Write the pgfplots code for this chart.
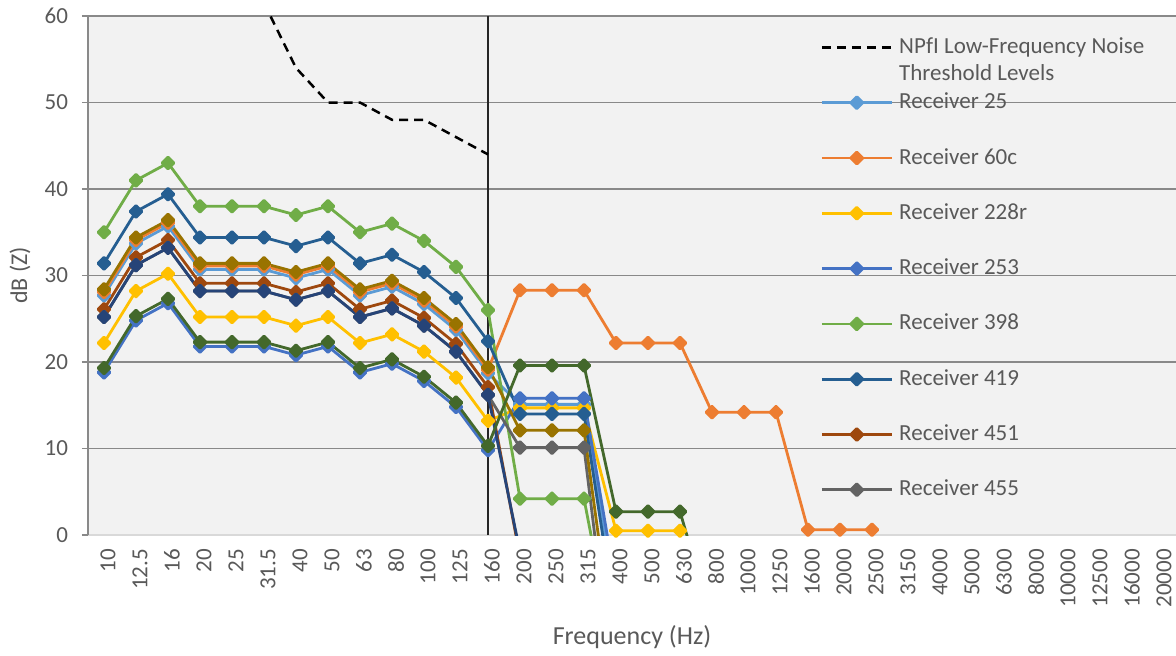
\documentclass[border=0pt]{standalone}
\usepackage{pgfplots}
\pgfplotsset{compat=1.18}
\usepackage{fontspec}
\setmainfont{Carlito}
\definecolor{txt}{HTML}{595959}
\definecolor{bg}{HTML}{F2F2F2}
\definecolor{gridc}{HTML}{898989}
\definecolor{botc}{HTML}{D9D9D9}
\definecolor{cA}{HTML}{5B9BD5}
\definecolor{cB}{HTML}{ED7D31}
\definecolor{cC}{HTML}{FFC000}
\definecolor{cD}{HTML}{4472C4}
\definecolor{cE}{HTML}{70AD47}
\definecolor{cF}{HTML}{255E91}
\definecolor{cG}{HTML}{9E480E}
\definecolor{cH}{HTML}{636363}
\definecolor{cI}{HTML}{997300}
\definecolor{cJ}{HTML}{264478}
\definecolor{cK}{HTML}{43682B}
\begin{document}
\fontsize{11.5pt}{13.5pt}\selectfont
\begin{tikzpicture}
\useasboundingbox (-44pt,-60pt) rectangle (544pt,267.5pt);
\begin{axis}[
  at={(0,0)}, anchor=south west,
  scale only axis, width=544pt, height=259.5pt,
  xmin=-0.5, xmax=33.5, ymin=0, ymax=60,
  axis background/.style={fill=bg},
  axis x line*=bottom, axis y line*=left,
  x axis line style={draw=botc, line width=0.75pt},
  y axis line style={draw=gridc, line width=0.75pt},
  xtick={0,...,33},
  xticklabels={10,12.5,16,20,25,31.5,40,50,63,80,100,125,160,200,250,315,400,500,630,800,1000,1250,1600,2000,2500,3150,4000,5000,6300,8000,10000,12500,16000,20000},
  x tick style={draw=none},
  xticklabel style={rotate=90, anchor=east, yshift=-2pt, text=txt, font=\fontsize{11.5pt}{13pt}\selectfont},
  ytick={0,10,...,60},
  y tick style={draw=gridc, line width=0.75pt},
  tick align=outside, major tick length=3pt,
  yticklabel style={text=txt, xshift=-3pt, font=\fontsize{11.5pt}{13pt}\selectfont},
  /pgf/number format/assume math mode=true,
  ymajorgrids, grid style={draw=gridc, line width=0.8pt},
  xlabel={Frequency (Hz)},
  xlabel style={at={(axis description cs:0.5,-0.1965)}, anchor=center, text=txt, font=\fontsize{13pt}{15pt}\selectfont},
  ylabel={dB (Z)},
  ylabel style={at={(axis description cs:-0.0625,0.5)}, anchor=center, text=txt, font=\fontsize{12pt}{14pt}\selectfont},
  every axis plot/.append style={line width=1.4pt, line join=round},
  rec/.style={color=#1, mark=square*, mark size=2.1pt, mark options={rotate=45, solid}},
  legend image code/.code={\draw[mark repeat=2,mark phase=2,#1] plot coordinates {(0pt,0pt)(17.5pt,0pt)(35pt,0pt)};},
  legend cell align=left,
  legend style={at={(rel axis cs:0.6728,0.9634)}, anchor=north west, draw=none, fill=none, inner sep=0pt,
    row sep=15.65pt, column sep=3pt,
    nodes={inner sep=0pt, text height=9pt, text depth=3pt, text=txt, font=\fontsize{11.5pt}{13.5pt}\selectfont}},
]
\addplot[black!85, line width=0.75pt, forget plot] coordinates {(12,0)(12,60)};

\addplot[black, line width=1.25pt, dash pattern=on 4.5pt off 3pt] coordinates {(5,61.5)(6,54)(7,50)(8,50)(9,48)(10,48)(11,46)(12,44)};
\addlegendentry{\parbox[t]{140pt}{\raggedright NPfI Low-Frequency Noise\\Threshold Levels}}

\addplot[rec=cA] coordinates {(0,27.7)(1,33.7)(2,35.7)(3,30.7)(4,30.7)(5,30.7)(6,29.7)(7,30.7)(8,27.7)(9,28.7)(10,26.7)(11,23.7)(12,18.7)(13,15.1)(14,15.1)(15,15.1)(16,-8)};
\addlegendentry{Receiver 25}

\addplot[rec=cB] coordinates {(0,28.1)(1,34.1)(2,36.1)(3,31.1)(4,31.1)(5,31.1)(6,30.1)(7,31.1)(8,28.1)(9,29.1)(10,27.1)(11,24.1)(12,19.1)(13,28.3)(14,28.3)(15,28.3)(16,22.2)(17,22.2)(18,22.2)(19,14.2)(20,14.2)(21,14.2)(22,0.6)(23,0.6)(24,0.6)};
\addlegendentry{Receiver 60c}

\addplot[rec=cC] coordinates {(0,22.2)(1,28.2)(2,30.2)(3,25.2)(4,25.2)(5,25.2)(6,24.2)(7,25.2)(8,22.2)(9,23.2)(10,21.2)(11,18.2)(12,13.2)(13,14.7)(14,14.7)(15,14.7)(16,0.5)(17,0.5)(18,0.5)(19,-10)};
\addlegendentry{Receiver 228r}

\addplot[rec=cD] coordinates {(0,18.8)(1,24.8)(2,26.8)(3,21.8)(4,21.8)(5,21.8)(6,20.8)(7,21.8)(8,18.8)(9,19.8)(10,17.8)(11,14.8)(12,9.8)(13,15.8)(14,15.8)(15,15.8)(16,-6)};
\addlegendentry{Receiver 253}

\addplot[rec=cE] coordinates {(0,35)(1,41)(2,43)(3,38)(4,38)(5,38)(6,37)(7,38)(8,35)(9,36)(10,34)(11,31)(12,26)(13,4.2)(14,4.2)(15,4.2)(16,-15)};
\addlegendentry{Receiver 398}

\addplot[rec=cF] coordinates {(0,31.4)(1,37.4)(2,39.4)(3,34.4)(4,34.4)(5,34.4)(6,33.4)(7,34.4)(8,31.4)(9,32.4)(10,30.4)(11,27.4)(12,22.4)(13,14)(14,14)(15,14)(16,-10)};
\addlegendentry{Receiver 419}

\addplot[rec=cG] coordinates {(0,26.1)(1,32.1)(2,34.1)(3,29.1)(4,29.1)(5,29.1)(6,28.1)(7,29.1)(8,26.1)(9,27.1)(10,25.1)(11,22.1)(12,17.1)(13,-2.5)};
\addlegendentry{Receiver 451}

\addplot[rec=cH] coordinates {(0,25.2)(1,31.2)(2,33.2)(3,28.2)(4,28.2)(5,28.2)(6,27.2)(7,28.2)(8,25.2)(9,26.2)(10,24.2)(11,21.2)(12,16.2)(13,10.1)(14,10.1)(15,10.1)(16,-20)};
\addlegendentry{Receiver 455}

\addplot[rec=cI, forget plot] coordinates {(0,28.4)(1,34.4)(2,36.4)(3,31.4)(4,31.4)(5,31.4)(6,30.4)(7,31.4)(8,28.4)(9,29.4)(10,27.4)(11,24.4)(12,19.4)(13,12.1)(14,12.1)(15,12.1)(16,-15)};

\addplot[rec=cJ, forget plot] coordinates {(0,25.2)(1,31.2)(2,33.2)(3,28.2)(4,28.2)(5,28.2)(6,27.2)(7,28.2)(8,25.2)(9,26.2)(10,24.2)(11,21.2)(12,16.2)(13,-2)};

\addplot[rec=cK, forget plot] coordinates {(0,19.3)(1,25.3)(2,27.3)(3,22.3)(4,22.3)(5,22.3)(6,21.3)(7,22.3)(8,19.3)(9,20.3)(10,18.3)(11,15.3)(12,10.3)(13,19.6)(14,19.6)(15,19.6)(16,2.7)(17,2.7)(18,2.7)(19,-10)};
\end{axis}
\end{tikzpicture}
\end{document}
